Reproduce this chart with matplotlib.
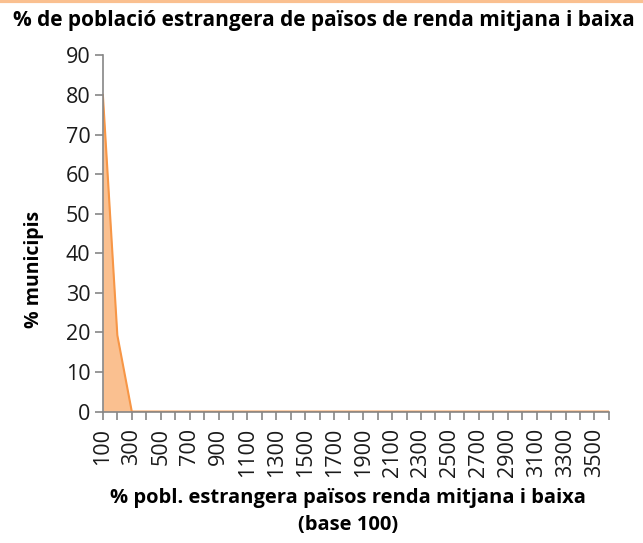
import numpy as np
import matplotlib.pyplot as plt
from matplotlib.lines import Line2D

plt.rcParams['font.family'] = ['Open Sans', 'DejaVu Sans']

# categories: % foreign population (base 100)
categories = list(range(100, 3700, 100))
# % of municipalities per category
values = [80, 19.3, 0] + [0] * (len(categories) - 3)

title = "% de població estrangera de països de renda mitjana i baixa"
xlabel = "% pobl. estrangera països renda mitjana i baixa\n(base 100)"
ylabel = "% municipis"

fig = plt.figure(figsize=(6.43, 5.43), dpi=100)
ax = fig.add_axes([0.160, 0.242, 0.787, 0.656])

x = np.arange(len(categories))
ax.fill_between(x, values, 0, color="#FAC090", lw=0, zorder=2)
ax.plot(x, values, color="#F79646", lw=1.5, zorder=3)

ax.set_xlim(0, len(categories) - 1)
ax.set_ylim(0, 90)
ax.set_yticks(range(0, 91, 10))
ax.set_xticks(x)
ax.set_xticklabels([str(c) if i % 2 == 0 and c <= 3500 else ""
                    for i, c in enumerate(categories)], rotation=90)

axis_col = "#868686"
for s in ["top", "right"]:
    ax.spines[s].set_visible(False)
for s in ["left", "bottom"]:
    ax.spines[s].set_color(axis_col)
    ax.spines[s].set_linewidth(1.2)
    ax.spines[s].set_zorder(5)
ax.tick_params(axis="both", colors=axis_col, labelcolor="#1a1a1a",
               labelsize=15.5, length=5.5, width=1.2)
ax.tick_params(axis="x", pad=6)

ax.set_ylabel(ylabel, fontsize=14, fontweight="bold")
ax.yaxis.set_label_coords(-0.117, 0.40)
fig.text(0.541, 0.015, xlabel, ha="center", va="bottom", fontsize=14.5,
         fontweight="bold", linespacing=1.45)
fig.text(0.504, 0.963, title, ha="center", va="center", fontsize=15,
         fontweight="bold")

# thin orange stripe at the top of the chart area
fig.add_artist(Line2D([0, 1], [0.998, 0.998], color="#FAC090", lw=3,
                      transform=fig.transFigure))

fig.savefig("out.png", dpi=100)
